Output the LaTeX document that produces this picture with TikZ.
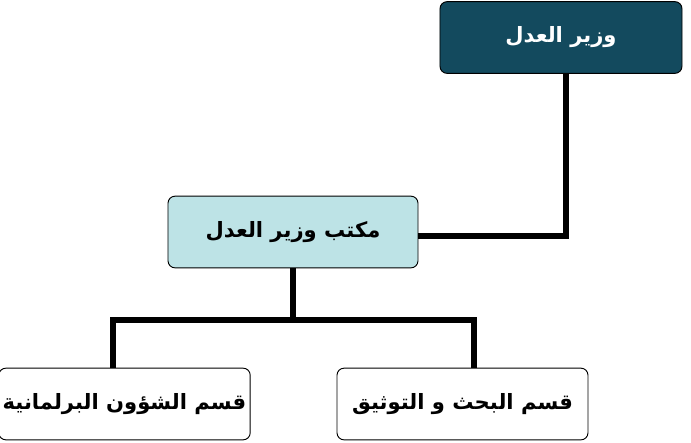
\documentclass[tikz,border=0pt]{standalone}
\usepackage{fontspec}
\newfontfamily\arabicfont[Script=Arabic]{DejaVu Sans}
\TeXXeTstate=1
\definecolor{ministerfill}{HTML}{134A5E}
\definecolor{officefill}{HTML}{BDE3E6}
\begin{document}
\begin{tikzpicture}[
      x=0.03cm, y=-0.03cm,
      font=\arabicfont\bfseries\fontsize{18}{22}\selectfont,
      unitbox/.style={draw=black, line width=0.8pt, rounded corners=6pt, minimum height=2.15cm},
      link/.style={line width=4.3pt}
    ]
      \useasboundingbox (0,0) rectangle (691,443);

      \node[unitbox, fill=ministerfill, text=white, minimum width=7.26cm] (minister) at (561,37.5) {\beginR وزير العدل\endR};
      \node[unitbox, fill=officefill, minimum width=7.5cm] (office) at (293,232) {\beginR مكتب وزير العدل\endR};
      \node[unitbox, fill=white, minimum width=7.35cm] (parl) at (124.5,404) {\beginR قسم الشؤون البرلمانية\endR};
      \node[unitbox, fill=white, minimum width=7.53cm] (research) at (462.5,404) {\beginR قسم البحث و التوثيق\endR};

      \coordinate (split) at (293,320);
      \draw[link] (minister.south -| 566,0) |- (office.east |- 0,236);
      \draw[link] (office.south) -- (split);
      \draw[link] (split) -| (parl.north -| 113,0);
      \draw[link] (split) -| (research.north -| 474,0);
    \end{tikzpicture}
\end{document}
